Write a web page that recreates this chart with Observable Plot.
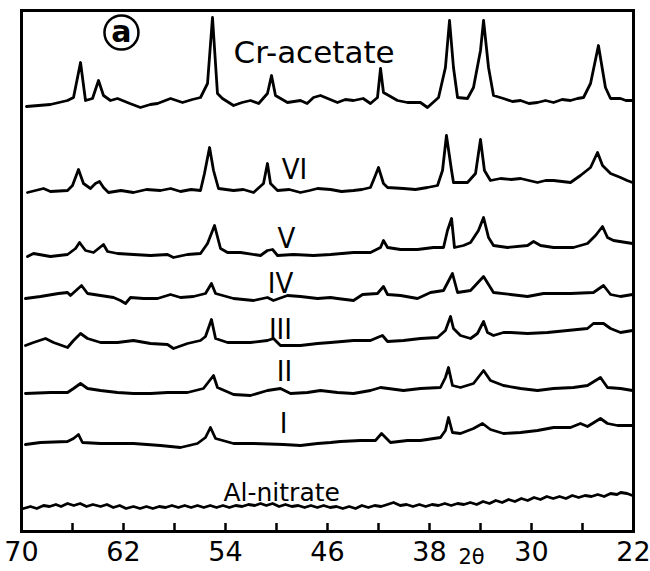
<!DOCTYPE html>
<html>
<head>
<meta charset="utf-8">
<script src="https://cdn.jsdelivr.net/npm/d3@7"></script>
<script src="https://cdn.jsdelivr.net/npm/@observablehq/plot@0.6"></script>
<style>
  html, body { margin: 0; padding: 0; background: #fff; }
  svg { display: block; }
</style>
</head>
<body>
<div id="chart"></div>
<script>
// Series names (top to bottom) and their vertical stacking offsets (intensity units)
const seriesNames = ["Cr-acetate", "VI", "V", "IV", "III", "II", "I", "Al-nitrate"];
const offsets = [431, 341, 277, 235, 191, 141, 88, 26];

// [2θ, relative intensity]
const crAcetate = [[69.61,-6],[67.73,-4],[66.39,0],[65.92,3],[65.37,38],[64.98,0],[64.43,2],[63.96,20],[63.57,5],[63.02,0],[62.47,2],[61.5,-3],[60.67,-7],[59.9,-4],[59.33,-3],[58.31,2],[57.37,-2],[56.6,1],[55.96,3],[55.41,17],[55.02,83],[54.63,7],[54.24,2],[53.37,-5],[52.7,-2],[52.04,0],[51.4,-3],[50.71,7],[50.39,25],[50.08,5],[49.14,-2],[48.12,0],[47.6,-3],[47.10,3],[46.55,5],[45.22,-2],[44.6,1],[43.96,0],[43.2,2],[42.63,-3],[42.08,3],[41.84,32],[41.61,8],[40.51,0],[39.73,-2],[38.71,-2],[38.16,-7],[37.29,3],[36.75,33],[36.43,80],[36.12,33],[35.80,3],[35.02,2],[34.55,13],[34.0,50],[33.76,80],[33.37,33],[32.98,5],[32.20,2],[31.5,-1],[30.86,0],[30.2,-3],[29.53,-2],[28.9,0],[28.27,-2],[27.6,1],[26.94,0],[26.4,2],[25.92,3],[25.37,17],[24.75,55],[24.20,13],[23.80,2],[23.02,2],[22.6,0],[22.08,0]];
const vi = [[69.53,-2],[68.27,2],[67.73,-1],[66.39,0],[66.0,5],[65.53,21],[65.14,7],[64.59,2],[64.20,7],[63.88,9],[63.57,3],[63.18,-2],[62.2,0],[61.22,-2],[60.2,1],[59.10,0],[58.3,2],[57.53,-1],[56.7,1],[55.96,0],[55.65,17],[55.25,43],[54.94,20],[54.55,2],[53.37,0],[52.6,1],[51.80,-2],[51.02,7],[50.71,27],[50.47,7],[49.92,0],[49.0,1],[48.12,-2],[47.4,0],[46.78,2],[45.76,1],[44.9,-1],[43.96,0],[43.3,1],[42.63,3],[42.31,13],[42.0,23],[41.61,7],[41.29,3],[40.04,2],[39.1,1],[38.16,3],[37.37,5],[36.98,20],[36.67,55],[36.27,20],[36.12,8],[35.02,8],[34.39,17],[34.0,51],[33.69,20],[33.22,10],[32.43,12],[31.6,11],[30.86,12],[30.2,10],[29.53,8],[28.9,10],[28.27,10],[27.6,9],[26.94,8],[26.16,15],[25.37,23],[24.82,38],[24.43,25],[23.80,17],[23.02,13],[22.5,10],[22.08,8]];
const v = [[69.53,-2],[69.06,1],[67.73,-2],[66.39,0],[65.76,6],[65.45,12],[64.98,4],[64.35,2],[63.57,10],[63.25,3],[62.47,1],[61.22,0],[59.88,-1],[58.55,0],[58.08,-3],[56.98,0],[55.96,1],[55.41,11],[54.86,29],[54.39,6],[53.84,2],[52.82,2],[51.25,-1],[50.71,4],[50.31,5],[49.92,-1],[48.67,0],[47.10,-1],[45.76,0],[43.96,2],[42.63,2],[41.84,7],[41.61,14],[41.29,7],[40.27,5],[38.94,5],[37.69,7],[36.90,7],[36.59,24],[36.27,36],[36.04,7],[35.33,9],[34.78,12],[34.16,24],[33.76,37],[33.37,17],[32.98,9],[31.88,7],[30.31,9],[29.84,13],[29.29,9],[28.27,7],[26.71,7],[25.61,11],[24.98,19],[24.43,28],[24.04,17],[23.57,14],[22.08,11]];
const iv = [[69.69,-2],[68.51,0],[67.10,3],[66.39,4],[66.16,1],[65.29,11],[64.82,3],[63.80,1],[62.78,-1],[62.24,-4],[61.84,-7],[61.45,-1],[60.43,-2],[59.33,-2],[58.31,2],[57.53,-1],[56.51,0],[55.57,3],[55.10,13],[54.78,3],[53.37,-2],[51.80,-4],[50.71,-1],[50.24,-4],[49.14,1],[48.12,0],[46.78,-2],[45.76,-1],[45.22,-2],[43.96,-4],[43.25,2],[42.08,3],[41.61,10],[41.29,2],[40.27,1],[38.94,-2],[37.92,4],[36.90,6],[36.20,23],[35.80,4],[34.78,6],[33.76,20],[32.98,4],[31.65,2],[30.31,0],[29.06,3],[26.94,3],[25.14,4],[24.35,11],[23.80,2],[23.02,0],[22.08,2]];
const iii = [[69.69,-5],[69.06,-2],[68.12,2],[67.49,-2],[66.39,-7],[65.92,0],[65.37,7],[64.82,2],[63.80,-2],[62.47,-2],[61.22,0],[59.88,-3],[58.55,-4],[58.08,-8],[56.98,-3],[55.96,0],[55.57,4],[55.10,21],[54.78,2],[53.84,-2],[52.04,-2],[50.71,0],[50.24,2],[49.69,-5],[48.12,-5],[46.78,-3],[45.76,-2],[43.96,0],[42.63,0],[42.08,3],[41.69,5],[41.29,-1],[40.04,0],[38.71,2],[37.37,3],[36.75,10],[36.35,24],[36.12,12],[35.57,5],[34.78,2],[34.24,7],[33.76,19],[33.45,8],[32.98,5],[32.20,8],[31.65,8],[30.31,7],[28.75,8],[27.18,10],[25.61,12],[25.14,17],[24.35,17],[23.80,12],[23.02,8],[22.08,10]];
const ii = [[69.69,-3],[67.73,-2],[66.39,-2],[65.92,2],[65.37,7],[64.82,2],[63.80,0],[62.47,-2],[61.22,-3],[59.88,-3],[58.55,-2],[56.98,-2],[55.73,2],[54.94,15],[54.63,3],[53.37,-4],[52.04,-5],[50.71,0],[49.69,2],[48.90,-3],[47.57,-2],[46.55,0],[45.22,-2],[43.96,-3],[42.63,0],[41.84,3],[40.04,0],[38.71,2],[37.14,3],[36.75,13],[36.51,23],[36.20,5],[35.57,3],[34.55,7],[33.76,20],[33.22,10],[32.20,5],[30.86,2],[29.53,0],[28.27,2],[26.71,3],[25.61,5],[24.59,13],[24.04,3],[23.02,2],[22.08,0]];
const i1 = [[69.69,-1],[68.51,1],[66.39,2],[65.92,5],[65.53,9],[65.22,1],[63.80,0],[61.22,0],[59.10,-2],[57.53,-4],[56.20,0],[55.57,6],[55.18,16],[54.78,5],[53.37,0],[51.80,0],[49.45,-1],[48.12,-2],[46.78,0],[45.76,1],[44.98,2],[43.41,3],[42.24,3],[41.76,10],[41.06,1],[39.73,3],[38.71,3],[37.14,6],[36.75,13],[36.51,26],[36.20,11],[35.57,10],[34.55,15],[33.84,20],[33.22,14],[32.20,10],[30.86,11],[29.53,13],[28.27,16],[26.94,16],[26.16,20],[25.61,17],[24.59,25],[24.04,20],[23.25,18],[22.08,18]];
const alNitrate = [[69.84,-3],[69.3,-1],[68.8,-3],[68.27,0],[67.8,-1],[67.3,1],[66.9,-1],[66.39,2],[65.9,0],[65.4,2],[64.9,-1],[64.4,1],[63.8,-1],[63.3,1],[62.8,-2],[62.3,0],[61.8,-3],[61.22,-1],[60.7,-3],[60.2,-1],[59.7,-3],[59.2,-1],[58.7,-2],[58.2,0],[57.7,-2],[57.2,0],[56.7,-2],[56.2,0],[55.7,-2],[55.2,0],[54.7,-2],[54.2,0],[53.7,-2],[53.2,0],[52.7,-1],[52.2,1],[51.7,0],[51.25,2],[50.8,0],[50.3,2],[49.8,-1],[49.3,1],[48.8,-1],[48.3,0],[47.8,-2],[47.3,0],[46.8,-2],[46.3,0],[45.8,-2],[45.3,-1],[44.8,-3],[44.3,-1],[43.8,-3],[43.3,0],[42.8,-2],[42.3,0],[41.8,-1],[41.3,1],[40.82,3],[40.3,0],[39.8,1],[39.3,-1],[38.8,1],[38.3,-1],[37.8,1],[37.3,0],[36.8,2],[36.3,0],[35.8,2],[35.3,1],[34.8,3],[34.3,1],[33.8,4],[33.3,2],[32.8,5],[32.3,3],[31.8,6],[31.3,4],[30.8,7],[30.3,5],[29.8,8],[29.3,6],[28.8,9],[28.3,7],[27.8,9],[27.3,7],[26.8,10],[26.3,8],[25.8,10],[25.3,9],[24.8,11],[24.3,9],[23.8,12],[23.3,11],[23.0,13],[22.5,12],[22.08,10]];
const seriesValues = [crAcetate, vi, v, iv, iii, ii, i1, alNitrate];

// Axis ticks and labels (2θ)
const tickValues = [70, 66, 62, 58, 54, 50, 46, 42, 38, 34, 30, 26, 22];
const tickLabels = [70, 62, 54, 46, 38, 30, 22];
const axisTitle = "2θ";

// Trace labels: [text, 2θ position, height above trace baseline]
const traceLabels = [
  ["Cr-acetate", 53.37, 38],
  ["VI", 48.59, 12],
  ["V", 49.22, 7],
  ["IV", 49.69, 4],
  ["III", 49.69, 2],
  ["II", 49.37, 10],
  ["I", 49.45, 11],
  ["Al-nitrate", 54.16, 5]
];
const panelLetter = "a";

const rows = [];
seriesValues.forEach((pts, k) => pts.forEach(([t, val]) => rows.push({series: seriesNames[k], t, val: val + offsets[k]})));
const labelRows = traceLabels.map(([text, t, dv]) => ({text, t, val: offsets[seriesNames.indexOf(text)] + dv}));

const narrow = "DejaVu Sans Condensed, Liberation Sans Narrow, DejaVu Sans, sans-serif";

const chart = Plot.plot({
  width: 650,
  height: 571,
  marginLeft: 21,
  marginRight: 17,
  marginTop: 10,
  marginBottom: 40,
  style: {background: "#fff", overflow: "visible"},
  x: {domain: [70, 22], axis: null},
  y: {domain: [0, 521], axis: null},
  marks: [
    Plot.frame({stroke: "#000", strokeWidth: 3}),
    Plot.ruleX(tickValues.slice(1, -1), {y1: 0, y2: 8, stroke: "#000", strokeWidth: 2.5}),
    Plot.text(tickLabels, {x: d => d, y: 0, dy: 29, text: d => String(d), lineAnchor: "bottom", fontSize: 27, fontFamily: "DejaVu Sans, sans-serif", fill: "#000"}),
    Plot.text([axisTitle], {x: 34.7, y: 0, dy: 32, text: d => d, lineAnchor: "bottom", fontSize: 21, fontFamily: "DejaVu Sans, sans-serif", fill: "#000"}),
    Plot.line(rows, {x: "t", y: "val", z: "series", stroke: "#000", strokeWidth: 2.8, strokeLinejoin: "round", curve: "linear"}),
    Plot.text(labelRows.filter(d => d.text === "Cr-acetate" || d.text === "Al-nitrate"), {x: "t", y: "val", text: "text", textAnchor: "start", lineAnchor: "bottom", fontSize: d => d.text === "Cr-acetate" ? 31 : 25, fontFamily: "DejaVu Sans, sans-serif", fill: "#000"}),
    Plot.text(labelRows.filter(d => d.text !== "Cr-acetate" && d.text !== "Al-nitrate"), {x: "t", y: "val", text: "text", textAnchor: "middle", lineAnchor: "bottom", fontSize: 29, fontFamily: narrow, fill: "#000"}),
    Plot.dot([panelLetter], {x: 62.16, y: 499, r: 17, stroke: "#000", strokeWidth: 2.5, fill: "none"}),
    Plot.text([panelLetter], {x: 62.16, y: 499, dy: 9, text: d => d, lineAnchor: "bottom", fontSize: 30, fontWeight: "bold", fontFamily: "DejaVu Sans, sans-serif", fill: "#000"})
  ]
});
document.getElementById("chart").appendChild(chart);
</script>
</body>
</html>
